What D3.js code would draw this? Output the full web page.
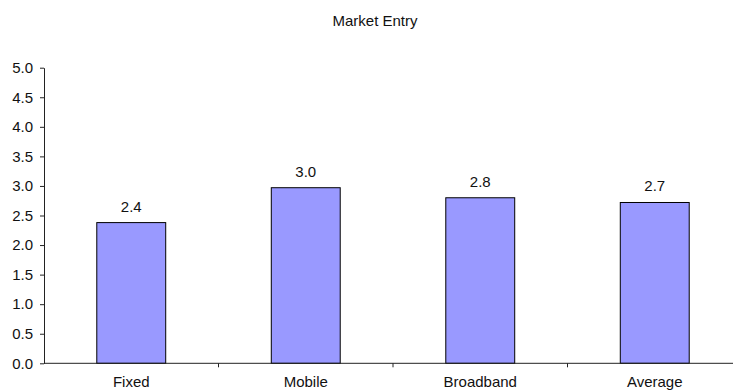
<!DOCTYPE html>
<html>
<head>
<meta charset="utf-8">
<script src="https://cdn.jsdelivr.net/npm/d3@7"></script>
<style>
  html, body { margin: 0; padding: 0; background: #fff; }
  svg { display: block; font-family: "Liberation Sans", Arial, sans-serif; }
</style>
</head>
<body>
<svg id="chart" width="733" height="391"></svg>
<script>
// Market entry scores by segment
const categories = ["Fixed", "Mobile", "Broadband", "Average"];
const scores = [2.38, 2.97, 2.80, 2.72];
const yTicks = [0, 0.5, 1, 1.5, 2, 2.5, 3, 3.5, 4, 4.5, 5];
const title = "Market Entry";

const svg = d3.select("#chart");
const plotLeft = 44, plotRight = 742, plotTop = 67.7, plotBottom = 363.3;
const fontSize = 15;

const x = d3.scaleBand().domain(categories).range([plotLeft, plotRight]).paddingInner(0).paddingOuter(0);
const y = d3.scaleLinear().domain([0, 5]).range([plotBottom, plotTop]);

svg.append("text")
  .attr("x", 375).attr("y", 25.5)
  .attr("text-anchor", "middle")
  .attr("font-size", fontSize)
  .attr("fill", "#111")
  .text(title);

// Y axis
const yAxis = svg.append("g")
  .attr("transform", `translate(${plotLeft},0)`)
  .call(d3.axisLeft(y).tickValues(yTicks).tickFormat(d3.format(".1f")).tickSize(4).tickSizeOuter(0).tickPadding(7));
yAxis.select(".domain").attr("stroke", "#222");
yAxis.selectAll(".tick line").attr("stroke", "#222");
yAxis.selectAll(".tick text").attr("font-size", fontSize).attr("fill", "#111").attr("font-family", "Liberation Sans, Arial, sans-serif");

// Bars
const bw = x.bandwidth() * 0.395;
svg.append("g").selectAll("rect")
  .data(categories)
  .join("rect")
  .attr("x", (d) => x(d) + (x.bandwidth() - bw) / 2)
  .attr("width", bw)
  .attr("y", (d, i) => y(scores[i]))
  .attr("height", (d, i) => y(0) - y(scores[i]))
  .attr("fill", "#9999FF")
  .attr("stroke", "#000")
  .attr("stroke-width", 1);

// Value labels
svg.append("g").selectAll("text")
  .data(categories)
  .join("text")
  .attr("x", (d) => x(d) + x.bandwidth() / 2)
  .attr("y", (d, i) => y(scores[i]) - 11)
  .attr("text-anchor", "middle")
  .attr("font-size", fontSize)
  .attr("fill", "#111")
  .text((d, i) => d3.format(".1f")(scores[i]));

// X axis with ticks between categories
const xg = svg.append("g").attr("transform", `translate(0,${plotBottom})`);
xg.append("line").attr("x1", plotLeft).attr("x2", plotRight).attr("stroke", "#222");
xg.selectAll("line.tk")
  .data(categories.slice(1))
  .join("line")
  .attr("class", "tk")
  .attr("x1", (d) => x(d)).attr("x2", (d) => x(d))
  .attr("y1", 0).attr("y2", 4)
  .attr("stroke", "#222");
xg.selectAll("text")
  .data(categories)
  .join("text")
  .attr("x", (d) => x(d) + x.bandwidth() / 2)
  .attr("y", 23.5)
  .attr("text-anchor", "middle")
  .attr("font-size", fontSize)
  .attr("fill", "#111")
  .text((d) => d);
</script>
</body>
</html>
